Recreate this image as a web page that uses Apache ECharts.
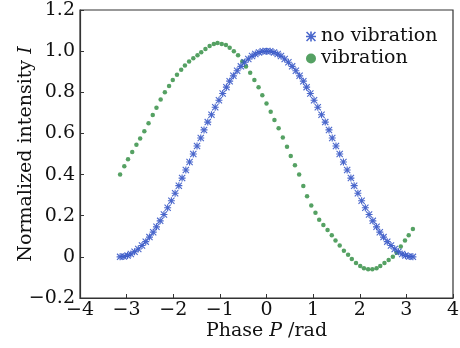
<!DOCTYPE html>
<html>
<head>
<meta charset="utf-8">
<script src="https://cdn.jsdelivr.net/npm/echarts@6/dist/echarts.min.js"></script>
<style>html,body{margin:0;padding:0;background:#fff}#c{width:460px;height:348px}</style>
</head>
<body>
<div id="c"></div>
<script>
var seriesNames = ['no vibration', 'vibration'];
var xTicks = [-4, -3, -2, -1, 0, 1, 2, 3, 4];
var yTicks = [-0.2, 0, 0.2, 0.4, 0.6, 0.8, 1.0, 1.2];

var phaseNoVib = [-3.14,-3.06,-2.98,-2.91,-2.83,-2.75,-2.67,-2.59,-2.51,-2.43,-2.36,-2.28,-2.20,-2.12,-2.04,-1.96,-1.88,-1.81,-1.73,-1.65,-1.57,-1.49,-1.41,-1.34,-1.26,-1.18,-1.10,-1.02,-0.94,-0.86,-0.79,-0.71,-0.63,-0.55,-0.47,-0.39,-0.31,-0.24,-0.16,-0.08,0,
  0.08,0.16,0.24,0.31,0.39,0.47,0.55,0.63,0.71,0.79,0.86,0.94,1.02,1.10,1.18,1.26,1.34,1.41,1.49,1.57,1.65,1.73,1.81,1.88,1.96,2.04,2.12,2.20,2.28,2.36,2.43,2.51,2.59,2.67,2.75,2.83,2.91,2.98,3.06,3.14];
var intensityNoVib = [0.000,0.002,0.006,0.014,0.025,0.038,0.055,0.074,0.096,0.120,0.146,0.175,0.206,0.239,0.273,0.309,0.346,0.383,0.422,0.461,0.500,0.539,0.578,0.617,0.655,0.691,0.727,0.761,0.794,0.825,0.854,0.880,0.905,0.926,0.946,0.962,0.976,0.986,0.994,0.999,1.000,
  0.999,0.994,0.986,0.976,0.962,0.946,0.926,0.905,0.880,0.854,0.825,0.794,0.761,0.727,0.691,0.655,0.617,0.578,0.539,0.500,0.461,0.422,0.383,0.346,0.309,0.273,0.239,0.206,0.175,0.146,0.120,0.096,0.074,0.055,0.038,0.025,0.014,0.006,0.002,0.000];

var phaseVib = [-3.14,-3.05,-2.97,-2.88,-2.79,-2.71,-2.62,-2.53,-2.44,-2.36,-2.27,-2.18,-2.09,-2.01,-1.92,-1.83,-1.75,-1.66,-1.57,-1.48,-1.40,-1.31,-1.22,-1.13,-1.05,-0.96,-0.87,-0.79,-0.70,-0.61,-0.52,-0.44,-0.35,-0.26,-0.17,-0.09,0,
  0.09,0.17,0.26,0.35,0.44,0.52,0.61,0.70,0.79,0.87,0.96,1.05,1.13,1.22,1.31,1.40,1.48,1.57,1.66,1.75,1.83,1.92,2.01,2.09,2.18,2.27,2.36,2.44,2.53,2.62,2.71,2.79,2.88,2.97,3.05,3.14];
var intensityVib = [0.400,0.440,0.475,0.510,0.545,0.575,0.610,0.650,0.690,0.725,0.765,0.800,0.830,0.860,0.885,0.910,0.930,0.950,0.965,0.980,0.995,1.010,1.025,1.035,1.040,1.035,1.030,1.017,1.000,0.980,0.950,0.925,0.895,0.860,0.825,0.785,0.745,
  0.705,0.665,0.625,0.580,0.535,0.490,0.445,0.400,0.345,0.295,0.250,0.215,0.180,0.155,0.130,0.105,0.080,0.055,0.030,0.010,-0.010,-0.030,-0.045,-0.055,-0.060,-0.060,-0.055,-0.045,-0.030,-0.015,0.000,0.020,0.050,0.080,0.105,0.135];

function pairs(xs, ys) { return xs.map(function (x, i) { return [x, ys[i]]; }); }

var starPath = 'path://M0,4.2L10,4.2L10,5.8L0,5.8Z M4.2,0L5.8,0L5.8,10L4.2,10Z M1.1,0L10,8.9L8.9,10L0,1.1Z M8.9,0L10,1.1L1.1,10L0,8.9Z';
var FONT = '"DejaVu Serif", "Liberation Serif", serif';
var FS = 19;
var BLUE = '#3656c6';
var GREEN = '#2b8a3c';

function fmtX(v) {
  if (Math.abs(v) < 1e-9) return '0';
  return (v < 0 ? '\u2212' : '') + String(Math.abs(Math.round(v)));
}
function fmtY(v) {
  if (Math.abs(v) < 1e-9) return '0';
  return (v < 0 ? '\u2212' : '') + Math.abs(v).toFixed(1);
}

var txt = { fontFamily: FONT, fontSize: FS, color: '#111' };
var itx = { fontFamily: FONT, fontSize: FS, fontStyle: 'italic', color: '#111' };
var chart = echarts.init(document.getElementById('c'), null, { renderer: 'canvas' });
chart.setOption({
  animation: false,
  backgroundColor: '#fff',
  grid: { left: 80, right: 7, top: 10, bottom: 50, outerBoundsMode: 'none', containLabel: false, show: true, borderColor: '#333', borderWidth: 1.2, backgroundColor: 'transparent' },
  legend: {
    orient: 'vertical', left: 301, top: 22, itemGap: 3, itemWidth: 10, itemHeight: 10,
    textStyle: txt,
    data: [
      { name: seriesNames[0], icon: starPath, itemStyle: { color: BLUE } },
      { name: seriesNames[1], icon: 'circle', itemStyle: { color: GREEN } }
    ]
  },
  xAxis: {
    type: 'value', min: xTicks[0], max: xTicks[xTicks.length - 1], interval: 1,
    name: '{n|Phase }{i|P}{n| /rad}', nameLocation: 'middle', nameGap: 24, nameMoveOverlap: false,
    nameTextStyle: { rich: { n: txt, i: itx } },
    axisLine: { onZero: false, lineStyle: { color: '#333', width: 1.2 } },
    axisTick: { inside: true, length: 4, lineStyle: { color: '#333' } },
    axisLabel: { fontFamily: FONT, fontSize: FS, color: '#111', margin: 3, formatter: fmtX },
    splitLine: { show: false }
  },
  yAxis: {
    type: 'value', min: yTicks[0], max: yTicks[yTicks.length - 1], interval: 0.2,
    name: '{n|Normalized intensity }{i|I}', nameLocation: 'middle', nameGap: 44, nameMoveOverlap: false,
    nameTextStyle: { rich: { n: txt, i: itx } },
    axisLine: { onZero: false, lineStyle: { color: '#333', width: 1.2 } },
    axisTick: { inside: true, length: 4, lineStyle: { color: '#333' } },
    axisLabel: { fontFamily: FONT, fontSize: FS, color: '#111', margin: 5, formatter: fmtY },
    splitLine: { show: false }
  },
  series: [
    { name: seriesNames[0], type: 'scatter', symbol: starPath, symbolSize: 7, itemStyle: { color: BLUE, opacity: 0.9 }, data: pairs(phaseNoVib, intensityNoVib), z: 3 },
    { name: seriesNames[1], type: 'scatter', symbol: 'circle', symbolSize: 4.5, itemStyle: { color: GREEN }, data: pairs(phaseVib, intensityVib), z: 2 }
  ]
});
</script>
</body>
</html>
